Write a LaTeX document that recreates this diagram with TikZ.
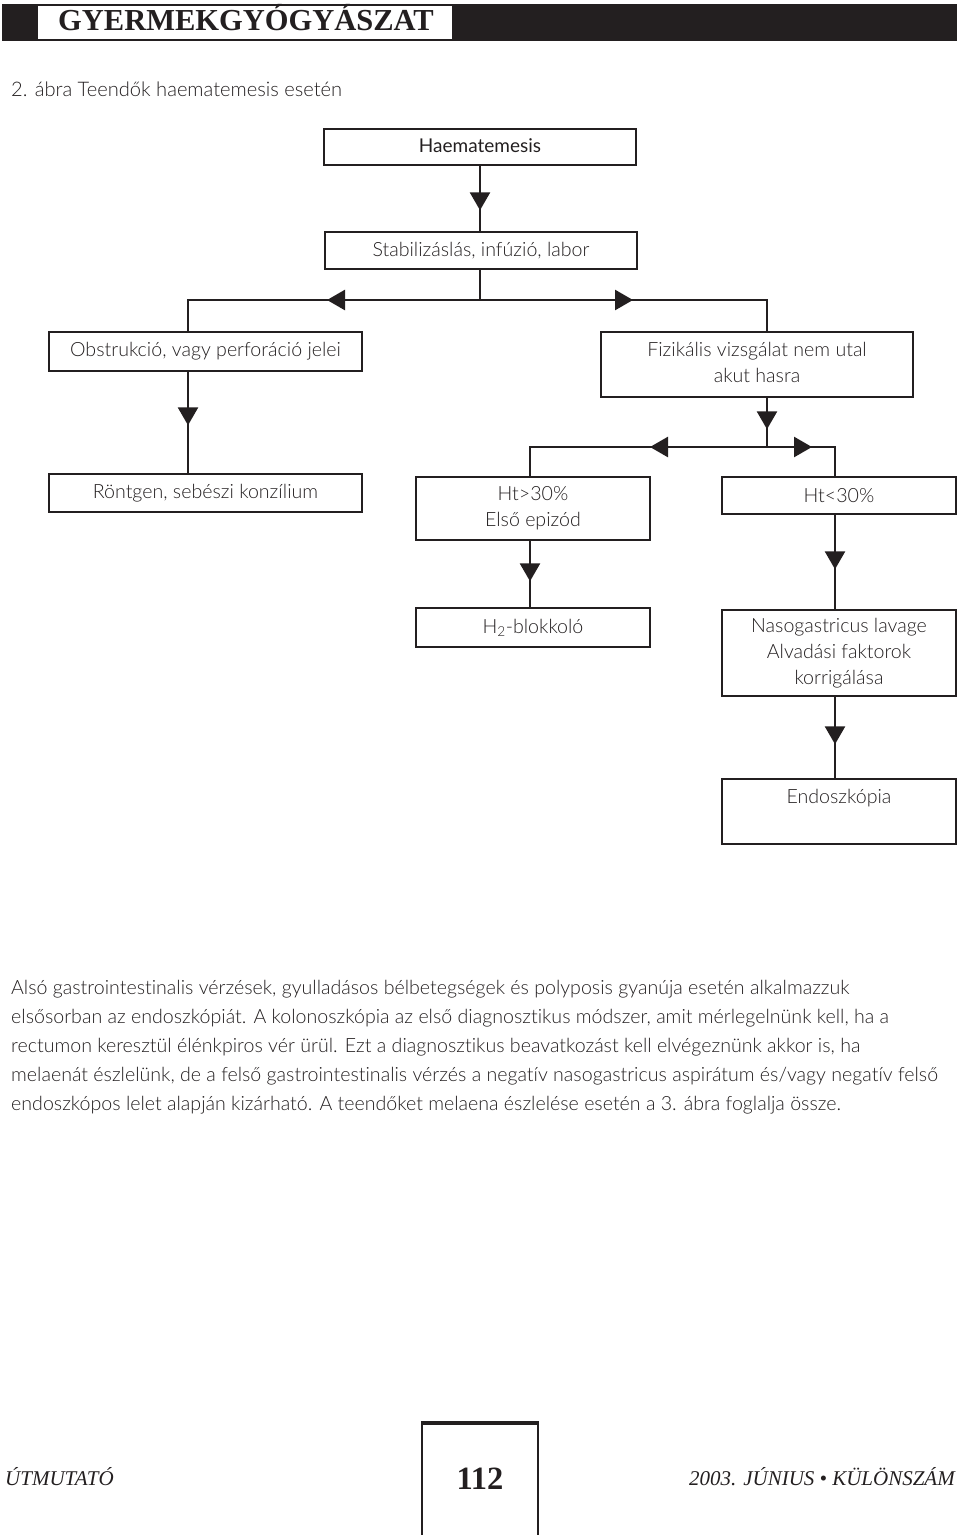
\documentclass[tikz,border=0pt]{standalone}
\usepackage{fontspec}
\setmainfont{Lato Light}[Ligatures=NoCommon]
\newfontfamily\latoreg{Lato}[Ligatures=NoCommon]
\newfontfamily\serifb{Liberation Serif}
\usetikzlibrary{arrows.meta,decorations.markings}
\definecolor{ink}{RGB}{35,31,32}
\begin{document}
\begin{tikzpicture}[x=1pt,y=-1pt,line join=miter,
  box/.style={draw=ink,line width=2.6pt,inner sep=0pt,align=center,text=ink,
    font=\fontsize{19.6}{26}\selectfont},
  conn/.style={draw=ink,line width=2.6pt},
  arr at/.style={postaction={decorate,decoration={markings,
    mark=at position #1 with {\arrow{Triangle[width=20pt,length=18pt]}}}}},
  txt/.style={inner sep=0pt,text=ink,font=\fontsize{19.6}{29}\selectfont},
]
\useasboundingbox (0,0) rectangle (960,1535);
% header
\fill[ink] (2,4) rectangle (957,41);
\fill[white] (38,6) rectangle (452,39);
\node[inner sep=0pt,anchor=base,text=ink,font=\serifb\bfseries\fontsize{30.5}{30}\selectfont] (head) at (246,30) {GYERMEKGYÓGYÁSZAT};
% caption
\node[txt,anchor=base west,font=\fontsize{20.1}{20}\selectfont] (cap) at (11,96) {2. ábra Teendők haematemesis esetén};
% boxes
\node[box,minimum width=312pt,minimum height=36pt,font=\latoreg\fontsize{19}{26}\selectfont] (haem) at (480,147) {\raisebox{2pt}{Haematemesis}};
\node[box,minimum width=312pt,minimum height=37pt] (stab) at (481,250.5) {Stabilizáslás, infúzió, labor};
\node[box,minimum width=313pt,minimum height=39pt] (obst) at (205.5,351.5) {Obstrukció, vagy perforáció jelei};
\node[box,minimum width=312pt,minimum height=65pt] (fiz) at (757,364.5) {\raisebox{3pt}{\begin{tabular}{@{}c@{}}Fizikális vizsgálat nem utal\\akut hasra\end{tabular}}};
\node[box,minimum width=313pt,minimum height=38pt] (ront) at (205.5,493) {Röntgen, sebészi konzílium};
\node[box,minimum width=234pt,minimum height=63pt] (ht1) at (533,508.5) {Ht>30\%\\Első epizód};
\node[box,minimum width=234pt,minimum height=37pt] (ht2) at (839,495.5) {Ht<30\%};
\node[box,minimum width=234pt,minimum height=39pt] (h2) at (533,627.5) {H\textsubscript{2}-blokkoló};
\node[box,minimum width=234pt,minimum height=86pt] (naso) at (839,653) {Nasogastricus lavage\\Alvadási faktorok\\korrigálása};
\node[box,minimum width=234pt,minimum height=65pt] (endo) at (839,811.5) {Endoszkópia\\[4pt]\mbox{}};
% connector coordinates
\coordinate (x0) at (480,0);
\coordinate (xl) at (188,0);
\coordinate (xr) at (767,0);
\coordinate (x1) at (530,0);
\coordinate (x2) at (835,0);
\coordinate (j1) at (480,300);
\coordinate (j2) at (767,447);
% connectors
\draw[conn,arr at=44pt] (haem.south -| x0) -- (stab.north -| x0);
\draw[conn] (stab.south -| x0) -- (j1);
\draw[conn,arr at=153pt] (j1) -| (obst.north -| xl);
\draw[conn,arr at=153pt] (j1) -| (fiz.north -| xr);
\draw[conn,arr at=53pt] (obst.south -| xl) -- (ront.north -| xl);
\draw[conn,arr at=31pt] (fiz.south -| xr) -- (j2);
\draw[conn,arr at=117pt] (j2) -| (ht1.north -| x1);
\draw[conn,arr at=45pt] (j2) -| (ht2.north -| x2);
\draw[conn,arr at=40pt] (ht1.south -| x1) -- (h2.north -| x1);
\draw[conn,arr at=54pt] (ht2.south -| x2) -- (naso.north -| x2);
\draw[conn,arr at=47pt] (naso.south -| x2) -- (endo.north -| x2);
% paragraph
\node[txt,anchor=base west] (p1) at (11,994) {Alsó gastrointestinalis vérzések, gyulladásos bélbetegségek és polyposis gyanúja esetén alkalmazzuk};
\node[txt,anchor=base west] (p2) at (11,1023) {elsősorban az endoszkópiát. A kolonoszkópia az első diagnosztikus módszer, amit mérlegelnünk kell, ha a};
\node[txt,anchor=base west] (p3) at (11,1052) {rectumon keresztül élénkpiros vér ürül. Ezt a diagnosztikus beavatkozást kell elvégeznünk akkor is, ha};
\node[txt,anchor=base west] (p4) at (11,1081) {melaenát észlelünk, de a felső gastrointestinalis vérzés a negatív nasogastricus aspirátum és/vagy negatív felső};
\node[txt,anchor=base west] (p5) at (11,1110) {endoszkópos lelet alapján kizárható. A teendőket melaena észlelése esetén a 3. ábra foglalja össze.};
% footer
\draw[ink,line width=2.4pt] (422,1535) -- (422,1423);
\draw[ink,line width=2.4pt] (538,1535) -- (538,1423);
\draw[ink,line width=3.4pt] (420.8,1423) -- (539.2,1423);
\node[inner sep=0pt,anchor=base,text=ink,font=\serifb\bfseries\fontsize{32.5}{32}\selectfont] (pg) at (480,1489) {112};
\node[inner sep=0pt,anchor=base west,text=ink,font=\serifb\itshape\fontsize{21}{21}\selectfont] (fl) at (5,1485) {ÚTMUTATÓ};
\node[inner sep=0pt,anchor=base east,text=ink,font=\serifb\itshape\fontsize{21}{21}\selectfont] (fr) at (955,1485) {2003. JÚNIUS • KÜLÖNSZÁM};
\end{tikzpicture}
\end{document}
